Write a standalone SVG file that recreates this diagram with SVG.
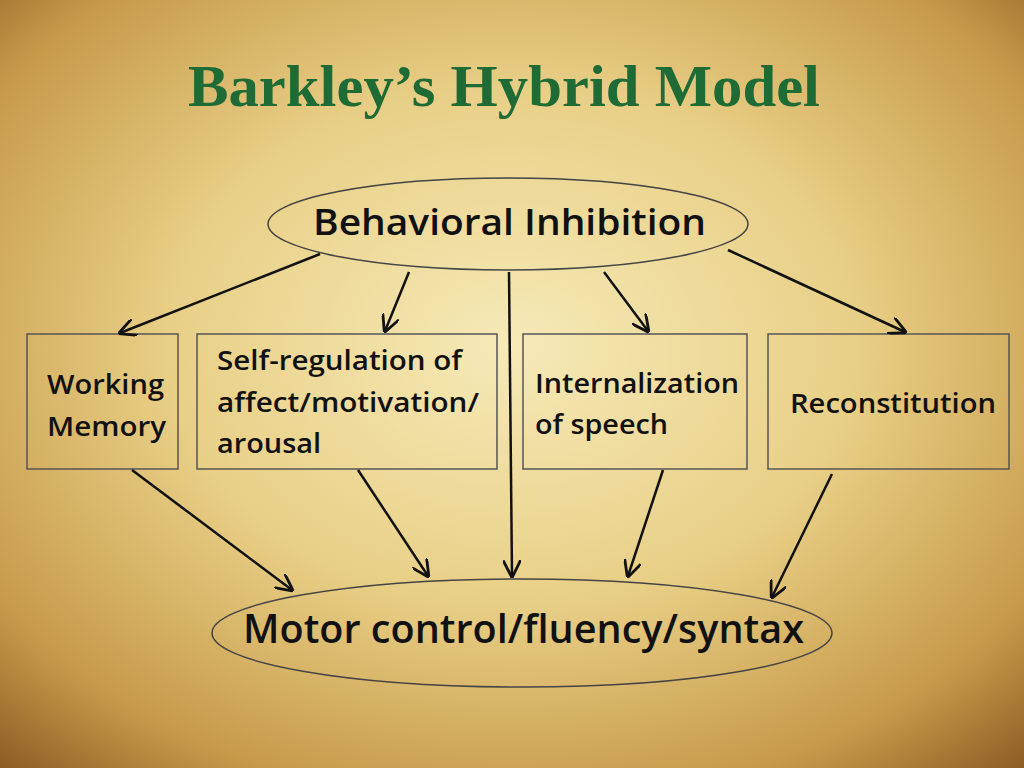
<svg xmlns="http://www.w3.org/2000/svg" width="1024" height="768" viewBox="0 0 1024 768">
<defs>
<radialGradient id="bg" cx="0.5" cy="0.45" r="0.75">
<stop offset="0" stop-color="#f6eab8"/>
<stop offset="0.45" stop-color="#e8cf86"/>
<stop offset="0.8" stop-color="#c79a4a"/>
<stop offset="1" stop-color="#8a5a22"/>
</radialGradient>
<marker id="ah" viewBox="0 0 10 10" refX="9" refY="5" markerWidth="7" markerHeight="7" orient="auto-start-reverse">
<path d="M0,0 L10,5 L0,10" fill="none" stroke="#111" stroke-width="1.6"/>
</marker>
<style>
.lbl{font-family:"Open Sans","Noto Sans",sans-serif;font-weight:600;fill:#111}
.box{fill:none;stroke:#555;stroke-width:1.5}
.ell{fill:none;stroke:#444;stroke-width:1.5}
.con line{stroke:#111;stroke-width:2.5;marker-end:url(#ah)}
</style>
</defs>
<rect width="1024" height="768" fill="url(#bg)"/>
<text x="188" y="106" font-family="Liberation Serif,serif" font-weight="bold" font-size="60" fill="#1f6b35" textLength="632" lengthAdjust="spacingAndGlyphs">Barkley’s Hybrid Model</text>
<g id="inhibition"><ellipse class="ell" cx="508" cy="224" rx="240" ry="46"/>
<text class="lbl" x="313" y="235" font-size="36" textLength="393" lengthAdjust="spacingAndGlyphs">Behavioral Inhibition</text></g>
<g id="wm"><rect class="box" x="27" y="334" width="151" height="135"/>
<text class="lbl" x="47" y="394" font-size="27" textLength="117" lengthAdjust="spacingAndGlyphs">Working</text><text class="lbl" x="47" y="436" font-size="27" textLength="119" lengthAdjust="spacingAndGlyphs">Memory</text></g>
<g id="selfreg"><rect class="box" x="197" y="334" width="300" height="135"/>
<text class="lbl" x="217" y="370" font-size="27" textLength="245" lengthAdjust="spacingAndGlyphs">Self-regulation of</text>
<text class="lbl" x="217" y="412" font-size="27" textLength="262" lengthAdjust="spacingAndGlyphs">affect/motivation/</text>
<text class="lbl" x="217" y="453" font-size="27" textLength="104" lengthAdjust="spacingAndGlyphs">arousal</text></g>
<g id="speech"><rect class="box" x="523" y="334" width="224" height="135"/>
<text class="lbl" x="535" y="393" font-size="27" textLength="204" lengthAdjust="spacingAndGlyphs">Internalization</text>
<text class="lbl" x="535" y="434" font-size="27" textLength="133" lengthAdjust="spacingAndGlyphs">of speech</text></g>
<g id="recon"><rect class="box" x="768" y="334" width="241" height="135"/>
<text class="lbl" x="790" y="413" font-size="27" textLength="206" lengthAdjust="spacingAndGlyphs">Reconstitution</text></g>
<g id="motor"><ellipse class="ell" cx="522" cy="633" rx="310" ry="54"/>
<text class="lbl" x="243" y="643" font-size="40" textLength="561" lengthAdjust="spacingAndGlyphs">Motor control/fluency/syntax</text></g>
<g class="con">
<line x1="320" y1="254" x2="120" y2="333"/>
<line x1="409" y1="272" x2="385" y2="331"/>
<line x1="509" y1="272" x2="512" y2="576"/>
<line x1="604" y1="272" x2="648" y2="331"/>
<line x1="728" y1="250" x2="905" y2="332"/>
<line x1="132" y1="470" x2="292" y2="590"/>
<line x1="358" y1="470" x2="428" y2="576"/>
<line x1="663" y1="470" x2="628" y2="576"/>
<line x1="832" y1="474" x2="772" y2="597"/>
</g>
</svg>
